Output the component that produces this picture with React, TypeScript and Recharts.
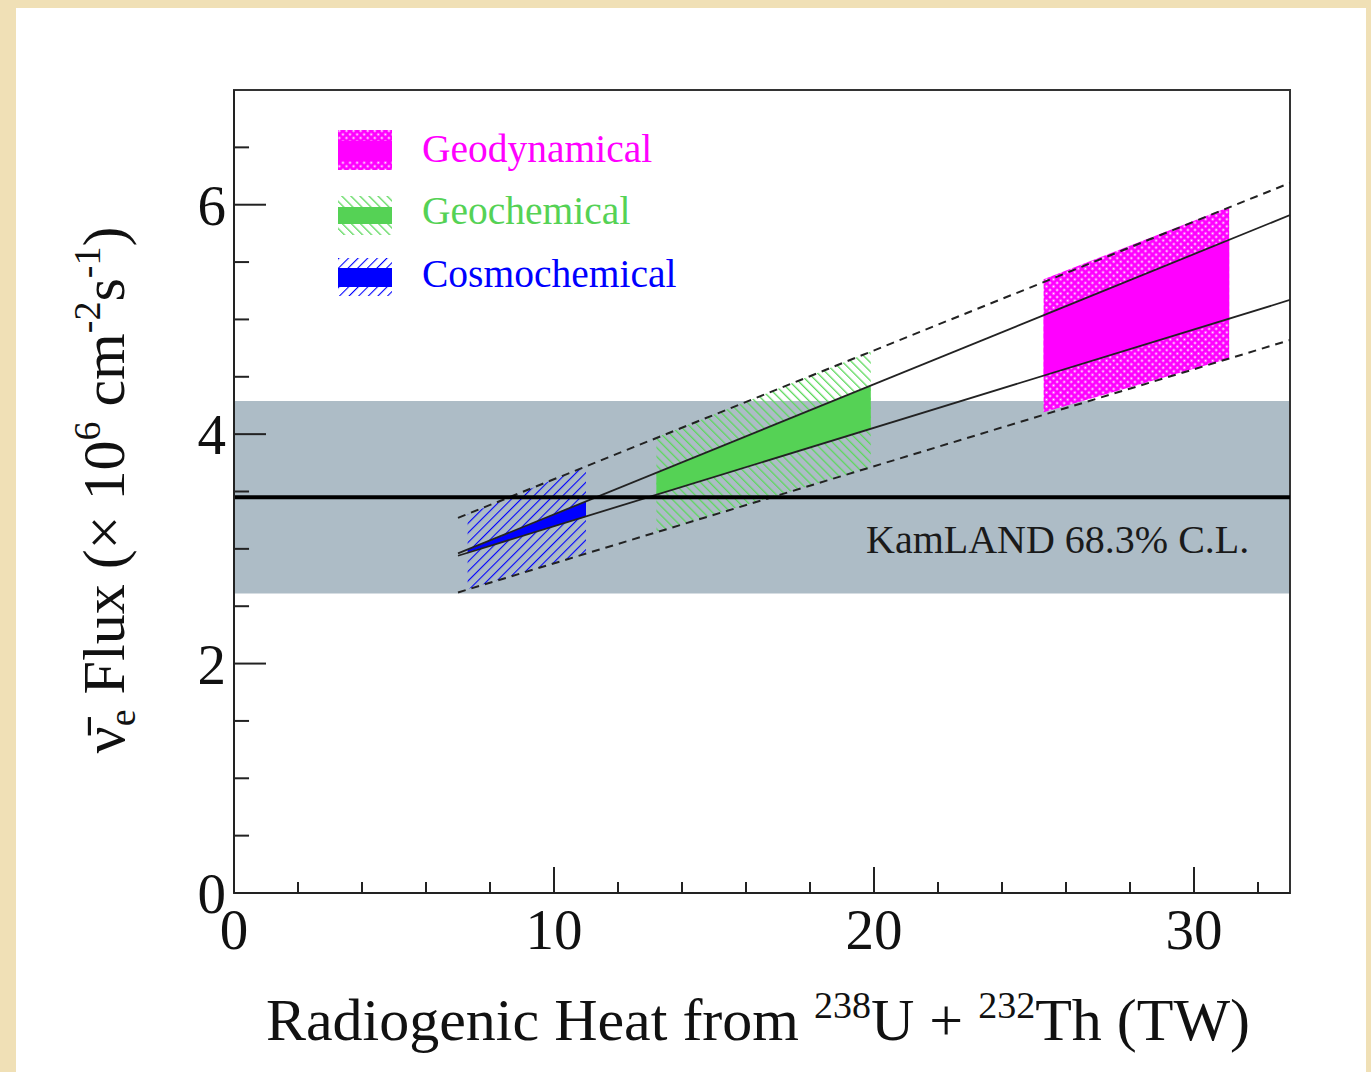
import React from 'react';
import { Area, ComposedChart, Line, ReferenceArea, ReferenceLine, XAxis, YAxis } from 'recharts';

// axis ticks
const xMajorTicks = [0, 10, 20, 30];
const xMinorTicks = [2, 4, 6, 8, 12, 14, 16, 18, 22, 24, 26, 28, 32];
const yMajorTicks = [0, 2, 4, 6];
const yMinorTicks = [0.5, 1, 1.5, 2.5, 3, 3.5, 4.5, 5, 5.5, 6.5];

// KamLAND measurement (x10^6 cm^-2 s^-1)
const kamlandX = [0, 33];
const kamlandLow = [2.61, 2.61];
const kamlandHigh = [4.29, 4.29];
const kamlandBest = [3.45, 3.45];

// model prediction lines
const lineX = [7, 33];
const solidUpper = [2.96, 5.91];
const solidLower = [2.94, 5.17];
const dashedUpper = [3.27, 6.19];
const dashedLower = [2.62, 4.82];

// Cosmochemical
const cosmoX = [7.3, 11.0];
const cosmoInnerLow = [2.97, 3.28];
const cosmoInnerHigh = [2.99, 3.41];
const cosmoOuterLow = [2.65, 2.96];
const cosmoOuterHigh = [3.3, 3.72];

// Geochemical
const geochemX = [13.2, 19.9];
const geochemInnerLow = [3.47, 4.05];
const geochemInnerHigh = [3.66, 4.42];
const geochemOuterLow = [3.15, 3.71];
const geochemOuterHigh = [3.97, 4.72];

// Geodynamical
const geodynX = [25.3, 31.1];
const geodynInnerLow = [4.51, 4.99];
const geodynInnerHigh = [5.05, 5.69];
const geodynOuterLow = [4.19, 4.66];
const geodynOuterHigh = [5.35, 5.98];

const toRange = (xs: number[], lo: number[], hi: number[]) =>
  xs.map((x, i) => ({ x, range: [lo[i], hi[i]] }));
const toLine = (xs: number[], ys: number[]) => xs.map((x, i) => ({ x, y: ys[i] }));

const MAGENTA = '#ff00ff';
const GREEN = '#55d255';
const BLUE = '#0000ff';
const FONT = '"Liberation Serif", "Times New Roman", serif';

const axisTick = { fontSize: 57, fill: '#111', fontFamily: FONT };

export default function App() {
  const bandProps = {
    type: 'linear' as const,
    dataKey: 'range',
    stroke: 'none',
    fillOpacity: 1,
    dot: false,
    activeDot: false,
    isAnimationActive: false,
  };
  const lineProps = {
    type: 'linear' as const,
    dataKey: 'y',
    dot: false,
    activeDot: false,
    isAnimationActive: false,
  };

  return (
    <div
      style={{
        position: 'absolute',
        left: 0,
        top: 0,
        width: 1371,
        height: 1072,
        background: '#f0e0b6',
        overflow: 'hidden',
      }}
    >
      <div style={{ position: 'absolute', left: 16, top: 8, width: 1350, height: 1064, background: '#fff' }} />

      <svg width={0} height={0} style={{ position: 'absolute' }}>
        <defs>
          <pattern id="hatchBlue" width={6.8} height={6.8} patternUnits="userSpaceOnUse" patternTransform="rotate(45)">
            <line x1={0} y1={0} x2={0} y2={6.8} stroke={BLUE} strokeWidth={2.2} />
          </pattern>
          <pattern id="hatchGreen" width={6.4} height={6.4} patternUnits="userSpaceOnUse" patternTransform="rotate(-45)">
            <line x1={0} y1={0} x2={0} y2={6.4} stroke="#5cd85c" strokeWidth={2.6} />
          </pattern>
          <pattern id="hatchMagenta" width={5} height={5} patternUnits="userSpaceOnUse" patternTransform="rotate(45)">
            <rect x={0} y={0} width={5} height={5} fill={MAGENTA} />
            <rect x={1.6} y={1.6} width={1.9} height={1.9} fill="#fff" />
          </pattern>
        </defs>
      </svg>

      <div style={{ position: 'absolute', left: 0, top: 0 }}>
        <ComposedChart width={1371} height={1072} margin={{ top: 90, right: 81, bottom: 109, left: 174 }}>
          <XAxis
            dataKey="x"
            type="number"
            domain={[0, 33]}
            ticks={xMajorTicks}
            interval={0}
            allowDataOverflow
            height={70}
            tickSize={0}
            tickMargin={16}
            tickLine={false}
            axisLine={{ stroke: '#222', strokeWidth: 2 }}
            tick={axisTick}
          />
          <YAxis
            type="number"
            domain={[0, 7]}
            ticks={yMajorTicks}
            interval={0}
            allowDataOverflow
            width={60}
            tickSize={0}
            tickMargin={8}
            tickLine={false}
            axisLine={{ stroke: '#222', strokeWidth: 2 }}
            tick={axisTick}
          />

          <Area {...bandProps} data={toRange(kamlandX, kamlandLow, kamlandHigh)} fill="#adbcc6" />

          <Area {...bandProps} data={toRange(cosmoX, cosmoOuterLow, cosmoOuterHigh)} fill="url(#hatchBlue)" />
          <Area {...bandProps} data={toRange(geochemX, geochemOuterLow, geochemOuterHigh)} fill="url(#hatchGreen)" />
          <Area {...bandProps} data={toRange(geodynX, geodynOuterLow, geodynOuterHigh)} fill="url(#hatchMagenta)" />

          <Area {...bandProps} data={toRange(cosmoX, cosmoInnerLow, cosmoInnerHigh)} fill={BLUE} />
          <Area {...bandProps} data={toRange(geochemX, geochemInnerLow, geochemInnerHigh)} fill={GREEN} />
          <Area {...bandProps} data={toRange(geodynX, geodynInnerLow, geodynInnerHigh)} fill={MAGENTA} />

          <Line {...lineProps} data={toLine(lineX, solidUpper)} stroke="#222" strokeWidth={1.8} />
          <Line {...lineProps} data={toLine(lineX, solidLower)} stroke="#222" strokeWidth={1.8} />
          <Line {...lineProps} data={toLine(lineX, dashedUpper)} stroke="#222" strokeWidth={2} strokeDasharray="8 6" />
          <Line {...lineProps} data={toLine(lineX, dashedLower)} stroke="#222" strokeWidth={2} strokeDasharray="8 6" />
          <Line {...lineProps} data={toLine(kamlandX, kamlandBest)} stroke="#000" strokeWidth={4} />

          {/* ROOT-style inward ticks */}
          {yMajorTicks.map((v) => (
            <ReferenceLine key={`ym${v}`} segment={[{ x: 0, y: v }, { x: 1.0, y: v }]} stroke="#222" strokeWidth={2} />
          ))}
          {yMinorTicks.map((v) => (
            <ReferenceLine key={`yn${v}`} segment={[{ x: 0, y: v }, { x: 0.47, y: v }]} stroke="#222" strokeWidth={2} />
          ))}
          {xMajorTicks.map((v) => (
            <ReferenceLine key={`xm${v}`} segment={[{ x: v, y: 0 }, { x: v, y: 0.227 }]} stroke="#222" strokeWidth={2} />
          ))}
          {xMinorTicks.map((v) => (
            <ReferenceLine key={`xn${v}`} segment={[{ x: v, y: 0 }, { x: v, y: 0.096 }]} stroke="#222" strokeWidth={2} />
          ))}

          <ReferenceArea x1={0} x2={33} y1={0} y2={7} fill="none" fillOpacity={0} stroke="#333" strokeWidth={2} />
        </ComposedChart>
      </div>

      <svg
        width={1371}
        height={1072}
        style={{ position: 'absolute', left: 0, top: 0, pointerEvents: 'none', fontFamily: FONT }}
      >
        {/* legend */}
        <rect x={338} y={130} width={54} height={40} fill="url(#hatchMagenta)" />
        <rect x={338} y={141} width={54} height={20} fill={MAGENTA} />
        <text x={422} y={162} fontSize={39.5} fill={MAGENTA}>Geodynamical</text>

        <rect x={338} y={196} width={54} height={39} fill="url(#hatchGreen)" />
        <rect x={338} y={207} width={54} height={17} fill={GREEN} />
        <text x={422} y={224} fontSize={39.5} fill={GREEN}>Geochemical</text>

        <rect x={338} y={258} width={54} height={38} fill="url(#hatchBlue)" />
        <rect x={338} y={268} width={54} height={19} fill={BLUE} />
        <text x={422} y={287} fontSize={39.5} fill={BLUE}>Cosmochemical</text>

        <text x={866} y={553} fontSize={40} fill="#1a1a1a">KamLAND 68.3% C.L.</text>

        {/* x axis title */}
        <text x={758} y={1040} fontSize={60} fill="#111" textAnchor="middle">
          Radiogenic Heat from{' '}
          <tspan fontSize={38} dy={-22}>238</tspan>
          <tspan dy={22}>U + </tspan>
          <tspan fontSize={38} dy={-22}>232</tspan>
          <tspan dy={22}>Th (TW)</tspan>
        </text>

        {/* y axis title */}
        <text transform="translate(124 490) rotate(-90)" x={0} y={0} fontSize={60} fill="#111" textAnchor="middle">
          {'\u03BD\u0304'}
          <tspan fontSize={38} dy={11}>e</tspan>
          <tspan dy={-11}> Flux (× 10</tspan>
          <tspan fontSize={38} dy={-24}>6</tspan>
          <tspan dy={24}> cm</tspan>
          <tspan fontSize={38} dy={-24}>-2</tspan>
          <tspan dy={24}>s</tspan>
          <tspan fontSize={38} dy={-24}>-1</tspan>
          <tspan dy={24}>)</tspan>
        </text>
      </svg>
    </div>
  );
}
